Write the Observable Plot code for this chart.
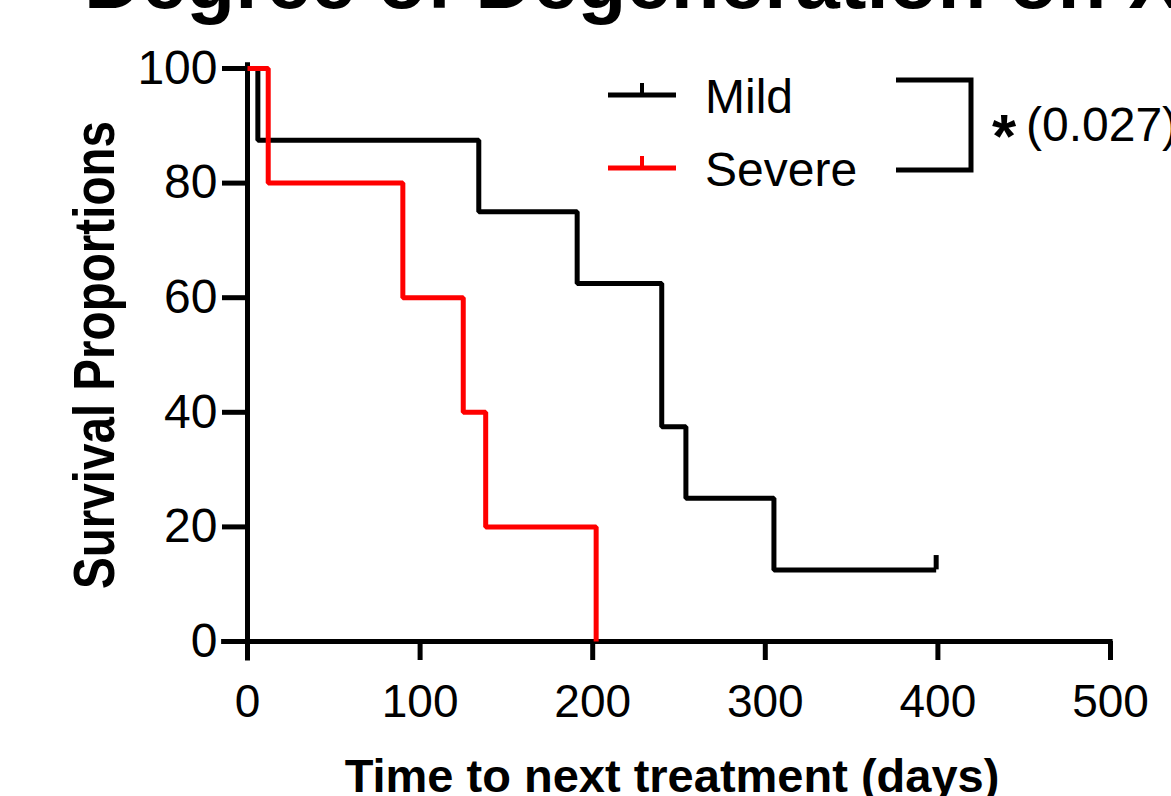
<!DOCTYPE html>
<html>
<head>
<meta charset="utf-8">
<script src="https://cdn.jsdelivr.net/npm/d3@7"></script>
<script src="https://cdn.jsdelivr.net/npm/@observablehq/plot@0.6"></script>
<style>
  html, body { margin: 0; padding: 0; background: white; }
  #chart { width: 1171px; height: 796px; overflow: hidden; }
</style>
</head>
<body>
<div id="chart"></div>
<script>
// ---- Data ----
const mildDays = [0, 6, 134, 191, 240, 254, 305, 399];
const mildSurvival = [100, 87.5, 75, 62.5, 37.5, 25, 12.5, 12.5];
const severeDays = [0, 12, 90, 125, 138, 202];
const severeSurvival = [100, 80, 60, 40, 20, 0];
const mildCensorDays = [399];
const mildCensorSurvival = [12.5];
const seriesNames = ["Mild", "Severe"];
const seriesColors = ["black", "red"];
const xTicks = [0, 100, 200, 300, 400, 500];
const yTicks = [0, 20, 40, 60, 80, 100];
const titleText = "Degree of Degeneration on X";
const xLabel = "Time to next treatment (days)";
const yLabel = "Survival Proportions";
const significance = "*";
const pValueText = "(0.027)";

const mild = mildDays.map((d, i) => ({day: d, surv: mildSurvival[i]}));
const severe = severeDays.map((d, i) => ({day: d, surv: severeSurvival[i]}));
const censor = mildCensorDays.map((d, i) => ({day: d, surv: mildCensorSurvival[i]}));

const FONT = "'Liberation Sans', Arial, Helvetica, sans-serif";

const plot = Plot.plot({
  width: 1171,
  height: 796,
  marginLeft: 247,
  marginRight: 61,
  marginTop: 68,
  marginBottom: 155,
  x: {domain: [0, 500]},
  y: {domain: [0, 100]},
  style: {fontFamily: FONT, background: "white", color: "black", overflow: "hidden"},
  marks: [
    Plot.axisX({ticks: xTicks, tickSize: 19, tickPadding: 24, strokeWidth: 5, fontSize: 46, label: null, tickFormat: d => String(d)}),
    Plot.axisY({ticks: yTicks, tickSize: 25, tickPadding: 5, strokeWidth: 5, fontSize: 48, label: null, tickFormat: d => String(d)}),
    Plot.ruleY([0], {x1: -15, x2: 501.5, stroke: "black", strokeWidth: 5}),
    Plot.ruleX([0], {y1: -3.4, y2: 101, stroke: "black", strokeWidth: 5}),
    Plot.line(mild, {x: "day", y: "surv", curve: "step-after", stroke: seriesColors[0], strokeWidth: 5, strokeLinejoin: "miter", strokeLinecap: "butt"}),
    Plot.ruleX(censor, {x: "day", y1: "surv", y2: d => d.surv + 2.5, stroke: seriesColors[0], strokeWidth: 5}),
    Plot.line(severe, {x: "day", y: "surv", curve: "step-after", stroke: seriesColors[1], strokeWidth: 5, strokeLinejoin: "miter", strokeLinecap: "butt"})
  ]
});

document.getElementById("chart").appendChild(plot);
const svg = d3.select(plot);

// Title (cut off at the top in the reference)
svg.append("text")
  .attr("x", 84).attr("y", 8)
  .attr("text-anchor", "start")
  .attr("font-family", FONT).attr("font-weight", "bold").attr("font-size", 80)
  .attr("fill", "black")
  .text(titleText);

// Axis labels
svg.append("text")
  .attr("transform", "translate(114,355) rotate(-90)")
  .attr("text-anchor", "middle")
  .attr("font-family", FONT).attr("font-weight", "bold").attr("font-size", 58)
  .attr("textLength", 468).attr("lengthAdjust", "spacingAndGlyphs")
  .attr("fill", "black")
  .text(yLabel);

svg.append("text")
  .attr("x", 672).attr("y", 792)
  .attr("text-anchor", "middle")
  .attr("font-family", FONT).attr("font-weight", "bold").attr("font-size", 47)
  .attr("fill", "black")
  .text(xLabel);

// Legend
const legendY = [95, 168];
const legendTextY = [113, 186];
seriesNames.forEach((name, i) => {
  const g = svg.append("g");
  g.append("line").attr("x1", 608).attr("x2", 676).attr("y1", legendY[i]).attr("y2", legendY[i])
    .attr("stroke", seriesColors[i]).attr("stroke-width", 5);
  g.append("line").attr("x1", 642).attr("x2", 642).attr("y1", legendY[i] - 12).attr("y2", legendY[i])
    .attr("stroke", seriesColors[i]).attr("stroke-width", 4);
  g.append("text").attr("x", 705).attr("y", legendTextY[i])
    .attr("text-anchor", "start")
    .attr("font-family", FONT).attr("font-size", 48).attr("fill", "black")
    .text(name);
});

// Significance bracket
svg.append("path")
  .attr("d", "M896,80 H971 V170 H896")
  .attr("fill", "none").attr("stroke", "black").attr("stroke-width", 5)
  .attr("stroke-linejoin", "miter");
svg.append("text")
  .attr("x", 1004).attr("y", 157).attr("text-anchor", "middle")
  .attr("font-family", FONT).attr("font-weight", "bold").attr("font-size", 62)
  .attr("fill", "black")
  .text(significance);
svg.append("text")
  .attr("x", 1026).attr("y", 141)
  .attr("text-anchor", "start")
  .attr("font-family", FONT).attr("font-size", 48)
  .attr("fill", "black")
  .text(pValueText);
</script>
</body>
</html>
